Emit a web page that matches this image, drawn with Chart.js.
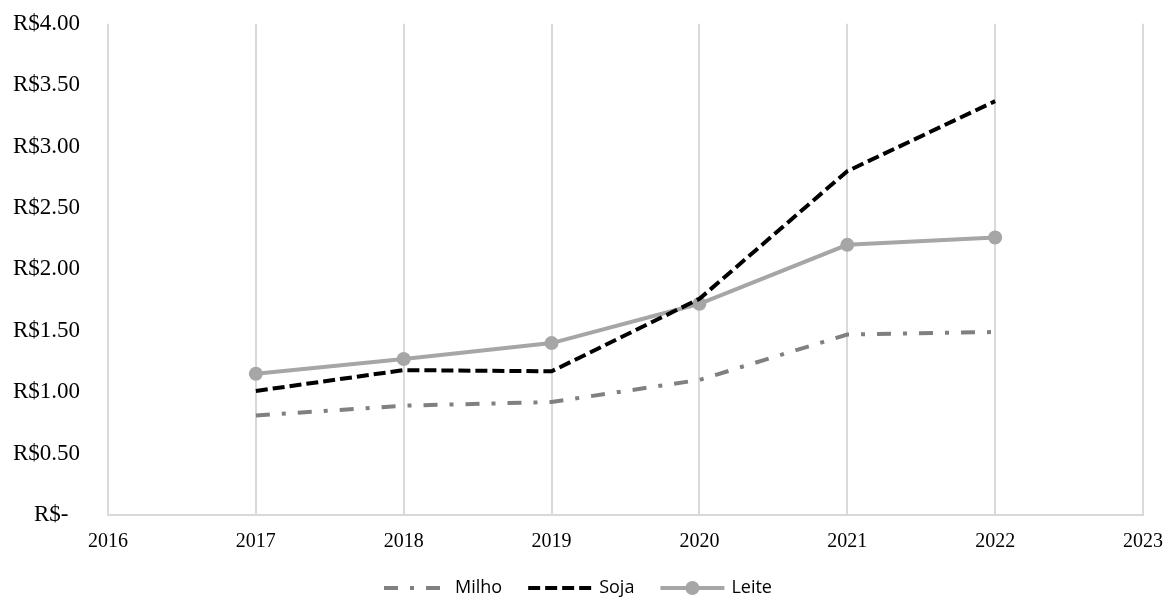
<!DOCTYPE html>
<html>
<head>
<meta charset="utf-8">
<script src="https://cdn.jsdelivr.net/npm/chart.js@4/dist/chart.umd.min.js"></script>
<style>
  html, body { margin: 0; padding: 0; background: #fff; }
  #wrap { width: 1169px; height: 601px; }
</style>
</head>
<body>
<div id="wrap"><canvas id="chart"></canvas></div>
<script>
// anos e preços (R$)
const anos = [2017, 2018, 2019, 2020, 2021, 2022];
const milho = [0.81, 0.89, 0.92, 1.10, 1.47, 1.49];
const soja = [1.01, 1.18, 1.17, 1.76, 2.80, 3.37];
const leite = [1.15, 1.27, 1.40, 1.72, 2.20, 2.26];

const toPoints = (vals) => anos.map((a, i) => ({x: a, y: vals[i]}));

const seriesStyle = [
    {label: 'Milho', data: milho, color: '#808080', dash: [14, 12, 4, 12], point: false},
    {label: 'Soja', data: soja, color: '#000000', dash: [12, 5], point: false},
    {label: 'Leite', data: leite, color: '#a6a6a6', dash: [], point: true},
];

// legenda desenhada à mão, embaixo (linha tracejada + marcador + texto)
const legendLines = {
    id: 'legendLines',
    afterDraw(chart) {
        const ctx = chart.ctx;
        const lineW = 64, textGap = 7, itemGap = 26;
        const y = 588;
        ctx.save();
        ctx.font = '18px "Open Sans", sans-serif';
        const widths = seriesStyle.map(s => ctx.measureText(s.label).width);
        const total = widths.reduce((a, w) => a + lineW + textGap + w, 0) + itemGap * (seriesStyle.length - 1);
        let x = 578 - total / 2;
        seriesStyle.forEach((s, i) => {
            ctx.strokeStyle = s.color;
            ctx.lineWidth = 4;
            ctx.setLineDash(s.dash);
            ctx.beginPath();
            ctx.moveTo(x, y);
            ctx.lineTo(x + lineW, y);
            ctx.stroke();
            if (s.point) {
                ctx.setLineDash([]);
                ctx.fillStyle = s.color;
                ctx.beginPath();
                ctx.arc(x + lineW / 2, y, 7, 0, Math.PI * 2);
                ctx.fill();
            }
            ctx.setLineDash([]);
            ctx.fillStyle = '#000';
            ctx.textBaseline = 'middle';
            ctx.textAlign = 'left';
            ctx.fillText(s.label, x + lineW + textGap, y);
            x += lineW + textGap + widths[i] + itemGap;
        });
        ctx.restore();
    }
};

const serif = '"Liberation Serif", "Times New Roman", serif';

const ctx = document.getElementById('chart').getContext('2d');
new Chart(ctx, {
    type: 'line',
    data: {
        datasets: seriesStyle.map(s => ({
            label: s.label,
            data: toPoints(s.data),
            borderColor: s.color,
            backgroundColor: s.color,
            borderWidth: 4,
            borderDash: s.dash,
            pointRadius: s.point ? 7 : 0,
            pointHoverRadius: s.point ? 7 : 0,
            pointBackgroundColor: s.color,
            pointBorderWidth: 0,
            tension: 0,
            fill: false,
        }))
    },
    options: {
        responsive: true,
        maintainAspectRatio: false,
        animation: false,
        layout: {padding: {top: 0, right: 26, left: 0, bottom: 50}},
        plugins: {
            tooltip: {enabled: false},
            legend: {display: false}
        },
        scales: {
            x: {
                type: 'linear',
                min: 2016,
                max: 2023,
                afterFit(scale) { scale.height = 36; },
                ticks: {
                    stepSize: 1,
                    padding: 2,
                    color: '#000',
                    font: {family: serif, size: 20, lineHeight: 2.5},
                    callback: v => String(v),
                },
                grid: {color: '#d9d9d9', lineWidth: 2, drawTicks: false},
                border: {color: '#d9d9d9', width: 2},
            },
            y: {
                min: 0,
                max: 4,
                weight: 1,
                afterFit(scale) { scale.width = 90; },
                ticks: {
                    stepSize: 0.5,
                    padding: 10,
                    color: '#000',
                    font: {family: serif, size: 23},
                    callback: v => v === 0 ? 'R$-  ' : 'R$' + v.toFixed(2),
                },
                grid: {display: false, drawTicks: false},
                border: {display: false},
            },
            // eixo vazio só para abrir espaço entre os rótulos e a área do gráfico
            yGap: {
                position: 'left',
                weight: 0,
                min: 0,
                max: 1,
                afterFit(scale) { scale.width = 18; },
                ticks: {display: false},
                grid: {display: false, drawTicks: false},
                border: {display: false},
            }
        }
    },
    plugins: [legendLines]
});
</script>
</body>
</html>
